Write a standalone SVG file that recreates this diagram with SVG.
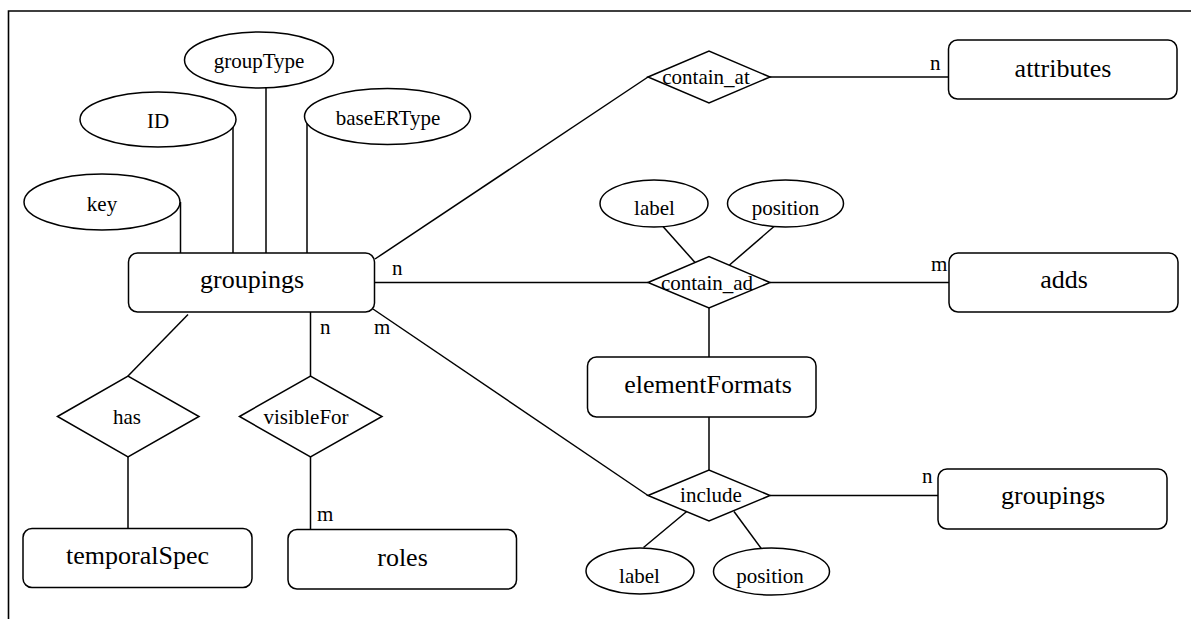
<svg xmlns="http://www.w3.org/2000/svg" width="1191" height="619" viewBox="0 0 1191 619" font-family="Liberation Serif, DejaVu Serif, serif">
  <style>
    .shape { fill: #ffffff; stroke: #000000; stroke-width: 1.5; }
    .edge { fill: none; stroke: #000000; stroke-width: 1.5; }
    .frame { fill: none; stroke: #000000; stroke-width: 1.6; }
    text { font-family: 'Liberation Serif', 'DejaVu Serif', serif; fill: #000000; text-anchor: middle; }
    .ent { font-size: 26px; }
    .small { font-size: 21px; }
    .card { font-size: 21px; text-anchor: start; }
  </style>

  <rect x="0" y="0" width="1191" height="619" fill="#ffffff"/>
  <path class="frame" d="M1191 11 H8.5 V619"/>

  <!-- connectors -->
  <g id="connectors">
    <!-- attributes of groupings -->
    <line class="edge" x1="180.5" y1="202" x2="180.5" y2="253"/>
    <line class="edge" x1="233" y1="122" x2="233" y2="253"/>
    <line class="edge" x1="266" y1="88" x2="266" y2="253"/>
    <line class="edge" x1="307" y1="114" x2="307" y2="253"/>
    <!-- groupings - contain_at - attributes -->
    <line class="edge" x1="375" y1="259" x2="648" y2="77"/>
    <line class="edge" x1="770" y1="77" x2="949" y2="77"/>
    <!-- groupings - contain_ad - adds -->
    <line class="edge" x1="375" y1="282.5" x2="648" y2="282.5"/>
    <line class="edge" x1="770" y1="282.5" x2="949" y2="282.5"/>
    <line class="edge" x1="663" y1="226.5" x2="695.5" y2="263"/>
    <line class="edge" x1="774" y1="226.5" x2="729.5" y2="265"/>
    <line class="edge" x1="709" y1="308" x2="709" y2="357"/>
    <!-- elementFormats - include -->
    <line class="edge" x1="709" y1="417" x2="709" y2="470"/>
    <line class="edge" x1="373" y1="309" x2="648" y2="495.5"/>
    <line class="edge" x1="770" y1="495.5" x2="938" y2="495.5"/>
    <line class="edge" x1="688.5" y1="510" x2="643.5" y2="547.5"/>
    <line class="edge" x1="734" y1="511.5" x2="763.5" y2="551.5"/>
    <!-- groupings - has - temporalSpec -->
    <line class="edge" x1="188" y1="314.5" x2="128" y2="376"/>
    <line class="edge" x1="128" y1="457" x2="128" y2="528.5"/>
    <!-- groupings - visibleFor - roles -->
    <line class="edge" x1="310.5" y1="312" x2="310.5" y2="376"/>
    <line class="edge" x1="310.5" y1="457" x2="310.5" y2="529.5"/>
  </g>

  <!-- cardinalities -->
  <g id="cardinalities">
    <text class="card" x="392" y="275">n</text>
    <text class="card" x="930" y="70">n</text>
    <text class="card" x="931" y="271">m</text>
    <text class="card" x="320" y="334">n</text>
    <text class="card" x="374" y="334">m</text>
    <text class="card" x="317" y="521">m</text>
    <text class="card" x="922" y="483">n</text>
  </g>

  <!-- entities -->
  <g id="groupings">
    <rect class="shape" x="128.5" y="253" width="246" height="59" rx="9"/>
    <text class="ent" x="252" y="288">groupings</text>
  </g>
  <g id="attributes">
    <rect class="shape" x="948.5" y="40" width="228.5" height="59" rx="9"/>
    <text class="ent" x="1063" y="77">attributes</text>
  </g>
  <g id="adds">
    <rect class="shape" x="949" y="253" width="229" height="59" rx="9"/>
    <text class="ent" x="1064" y="288">adds</text>
  </g>
  <g id="elementFormats">
    <rect class="shape" x="587.5" y="357" width="228.5" height="60" rx="9"/>
    <text class="ent" x="708" y="393">elementFormats</text>
  </g>
  <g id="groupings2">
    <rect class="shape" x="938" y="469" width="229" height="60" rx="9"/>
    <text class="ent" x="1053" y="504">groupings</text>
  </g>
  <g id="temporalSpec">
    <rect class="shape" x="23" y="528.5" width="229" height="59" rx="9"/>
    <text class="ent" x="137.5" y="563.5">temporalSpec</text>
  </g>
  <g id="roles">
    <rect class="shape" x="288" y="529.5" width="228.5" height="59.5" rx="9"/>
    <text class="ent" x="402.5" y="566">roles</text>
  </g>

  <!-- attribute ellipses -->
  <g id="attr-key">
    <ellipse class="shape" cx="102" cy="202" rx="78" ry="28"/>
    <text class="small" x="102" y="210.5">key</text>
  </g>
  <g id="attr-ID">
    <ellipse class="shape" cx="158" cy="119.5" rx="78" ry="27.5"/>
    <text class="small" x="158" y="128">ID</text>
  </g>
  <g id="attr-groupType">
    <ellipse class="shape" cx="259" cy="60" rx="74.5" ry="28"/>
    <text class="small" x="259" y="68">groupType</text>
  </g>
  <g id="attr-baseERType">
    <ellipse class="shape" cx="387.5" cy="116.5" rx="83" ry="28"/>
    <text class="small" x="388" y="125">baseERType</text>
  </g>
  <g id="attr-label-ad">
    <ellipse class="shape" cx="654" cy="203.5" rx="54" ry="23.5"/>
    <text class="small" x="654.5" y="215">label</text>
  </g>
  <g id="attr-position-ad">
    <ellipse class="shape" cx="785.5" cy="203.5" rx="58" ry="23.5"/>
    <text class="small" x="785.5" y="215">position</text>
  </g>
  <g id="attr-label-inc">
    <ellipse class="shape" cx="640" cy="571" rx="54" ry="23"/>
    <text class="small" x="639.5" y="583">label</text>
  </g>
  <g id="attr-position-inc">
    <ellipse class="shape" cx="771.5" cy="571.5" rx="58" ry="23.5"/>
    <text class="small" x="770" y="583">position</text>
  </g>

  <!-- relationships -->
  <g id="contain_at">
    <polygon class="shape" points="648,77 709,51 770,77 709,103"/>
    <text class="small" x="706" y="83.5">contain_at</text>
  </g>
  <g id="contain_ad">
    <polygon class="shape" points="648,282.5 709,256.5 770,282.5 709,308"/>
    <text class="small" x="707" y="290">contain_ad</text>
  </g>
  <g id="include">
    <polygon class="shape" points="648,495.5 709,470 770,495.5 709,521"/>
    <text class="small" x="711" y="502">include</text>
  </g>
  <g id="has">
    <polygon class="shape" points="57.5,416.5 128,376 199,416.5 128,457"/>
    <text class="small" x="127" y="423.5">has</text>
  </g>
  <g id="visibleFor">
    <polygon class="shape" points="239.5,416.5 310.5,376 382,416.5 310.5,457"/>
    <text class="small" x="306" y="423.5">visibleFor</text>
  </g>
</svg>
